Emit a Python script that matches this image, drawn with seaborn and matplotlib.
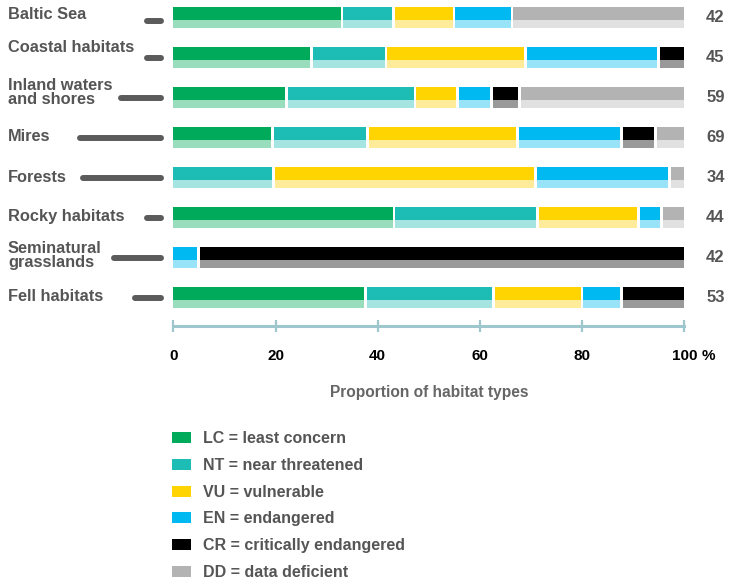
import numpy as np
import matplotlib
matplotlib.use("Agg")
import matplotlib.pyplot as plt
from matplotlib.patches import Patch
import seaborn as sns

# ---- data -------------------------------------------------------------
habitats = ["Baltic Sea", "Coastal habitats", "Inland waters\nand shores", "Mires",
            "Forests", "Rocky habitats", "Seminatural\ngrasslands", "Fell habitats"]
n_types = [42, 45, 59, 69, 34, 44, 42, 53]

# share of habitat types (%) per threat category
lc = [33.0, 27.1, 22.2, 19.4, 0.0, 43.2, 0.0, 37.6]
nt = [10.1, 14.5, 25.1, 18.6, 19.6, 28.1, 0.0, 25.1]
vu = [11.8, 27.3, 8.3, 29.3, 51.3, 19.7, 0.0, 17.3]
en = [11.4, 26.1, 6.7, 20.4, 26.2, 4.5, 4.9, 7.7]
cr = [0.0, 5.0, 5.4, 6.7, 0.0, 0.0, 95.1, 12.3]
dd = [33.7, 0.0, 32.3, 5.6, 2.9, 4.5, 0.0, 0.0]

category_labels = ["LC = least concern", "NT = near threatened", "VU = vulnerable",
                   "EN = endangered", "CR = critically endangered", "DD = data deficient"]
x_ticks = [0, 20, 40, 60, 80, 100]

# ---- style ------------------------------------------------------------
dark = ["#00aa5b", "#1dbcb4", "#ffd400", "#00b9f1", "#000000", "#b3b3b3"]
light = ["#99ddbd", "#a5e4e1", "#ffeb99", "#99e3f9", "#999999", "#e1e1e1"]
text_grey = "#555555"
axis_col = "#9dc6cd"
leader_px = [20, 20, 46, 87, 84, 20, 53, 32]        # length of the grey leader bars
leader_dy = [-3, 0, 0, 0, 0, 0, 0, 0]                # pixel nudges (positive = up)
label_dy = [3, 10, 5.5, 1.5, 0, 1, 2, 1.5]
FONT = ["Liberation Sans", "DejaVu Sans"]

sns.set_theme(style="white")
plt.rcParams["font.family"] = FONT

W, H, DPI = 735, 579, 100
fig = plt.figure(figsize=(W / DPI, H / DPI), dpi=DPI)

ax_left, ax_right = 173.3, 684.3
ax_top, ax_bot = 0.0, 340.0
ax = fig.add_axes([ax_left / W, 1 - ax_bot / H, (ax_right - ax_left) / W, (ax_bot - ax_top) / H])

row_px0, row_pitch = 17.8, 40.0
px_per_pct = (ax_right - ax_left) / 100.0

rows = np.arange(len(habitats))
shares = np.array([lc, nt, vu, en, cr, dd])
ends = np.cumsum(shares, axis=0)
half_gap = 1.3 / px_per_pct

dark_off, dark_h = -0.10375, 0.3175
light_off, light_h = 0.15875, 0.2075


def layer(values, offset, height, color):
    sns.barplot(x=values, y=rows + offset, orient="h", native_scale=True, width=height,
                color=color, saturation=1, errorbar=None, linewidth=0,
                edgecolor="none", ax=ax)


# stacked bars: paint cumulative layers from the widest down, leaving a white gap
for k in range(len(dark) - 1, -1, -1):
    end = ends[k]
    full = np.isclose(end, 100)
    white_end = np.where((end > 0) & ~full, end + half_gap, end)
    col_end = np.where(full, end, np.clip(end - half_gap, 0, None))
    if k < len(dark) - 1:
        layer(white_end, 0.0, 0.56, "white")
    layer(col_end, dark_off, dark_h, dark[k])
    layer(col_end, light_off, light_h, light[k])

ax.set_xlim(0, 100)
ax.set_ylim((ax_bot - row_px0) / row_pitch, (ax_top - row_px0) / row_pitch)
axis_row = (325.5 - row_px0) / row_pitch

# leaders, labels and counts
for r, name in enumerate(habitats):
    L = leader_px[r]
    x0 = -(9.3 + L - 3) / px_per_pct
    x1 = -(9.3 + 3) / px_per_pct
    yy = r - leader_dy[r] / row_pitch
    ax.plot([x0, x1], [yy, yy], lw=4.3, color="#5b5b5b", solid_capstyle="round",
            clip_on=False)
    ax.annotate(name, xy=(8, r), xycoords=("figure pixels", "data"),
                xytext=(0, label_dy[r]), textcoords="offset pixels",
                ha="left", va="center", fontsize=11.8, fontweight="bold",
                color=text_grey, linespacing=0.9, annotation_clip=False)
    ax.annotate(str(n_types[r]), xy=(715.5, r), xycoords=("figure pixels", "data"),
                ha="center", va="center", fontsize=12, fontweight="bold",
                color=text_grey, annotation_clip=False)

# x axis
for s in ["top", "left", "right"]:
    ax.spines[s].set_visible(False)
ax.spines["bottom"].set_position(("data", axis_row))
ax.spines["bottom"].set_color(axis_col)
ax.spines["bottom"].set_linewidth(2.2)
ax.set_yticks([])
ax.set_ylabel("")
ax.set_xticks(x_ticks)
ax.set_xticklabels([str(t) for t in x_ticks])
ax.tick_params(axis="x", bottom=True, direction="inout", length=9, width=1.6,
               color=axis_col, pad=12.5, labelsize=11, labelcolor="black")
for lbl in ax.get_xticklabels():
    lbl.set_fontweight("bold")
ax.annotate("%", xy=(100, axis_row), xycoords="data", xytext=(24, -30),
            textcoords="offset pixels", ha="center", va="center",
            fontsize=11, fontweight="bold", color="black", annotation_clip=False)
ax.set_xlabel("Proportion of habitat types", fontsize=11.2, fontweight="bold",
              color="#666666", labelpad=16)

# legend
handles = [Patch(facecolor=c, edgecolor="none") for c in dark]
fig.legend(handles, category_labels, loc="upper left",
           bbox_to_anchor=(172 / W, 1 - 431 / H), bbox_transform=fig.transFigure,
           frameon=False, borderpad=0, borderaxespad=0,
           handlelength=1.19, handleheight=0.69, handletextpad=0.72,
           labelspacing=0.74, prop={"family": FONT, "weight": "bold", "size": 11.5},
           labelcolor=text_grey)

fig.savefig("out.png", dpi=DPI)
